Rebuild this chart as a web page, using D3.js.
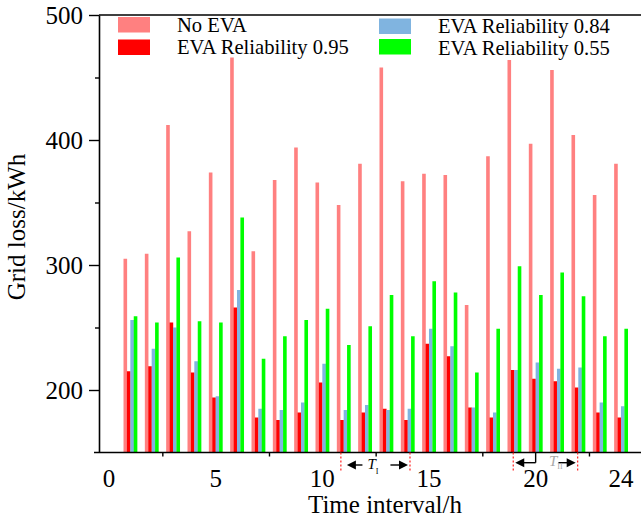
<!DOCTYPE html>
<html>
<head>
<meta charset="utf-8">
<script src="https://cdn.jsdelivr.net/npm/d3@7"></script>
<style>
  html, body { margin: 0; padding: 0; background: #fff; }
  svg { display: block; font-family: "Liberation Serif", "Times New Roman", serif; }
</style>
</head>
<body>
<svg id="chart" width="641" height="522"></svg>
<script>
// Hourly grid loss (kWh) for each scenario
const hours   = [1, 2, 3, 4, 5, 6, 7, 8, 9, 10, 11, 12, 13, 14, 15, 16, 17, 18, 19, 20, 21, 22, 23, 24];
const noEva   = [305, 309, 412, 327, 374, 466, 311, 368, 394, 366, 348, 381, 458, 367, 373, 372, 268, 387, 464, 397, 456, 404, 356, 381];
const rel095  = [215, 219, 254, 214, 194, 266, 178, 176, 182, 206, 176, 182, 185, 176, 237, 227, 186, 178, 216, 209, 207, 202, 182, 178];
const rel084  = [256, 233, 250, 223, 195, 280, 185, 184, 190, 221, 184, 188, 184, 185, 249, 235, 186, 182, 216, 222, 217, 218, 190, 187];
const rel055  = [259, 254, 306, 255, 254, 338, 225, 243, 256, 265, 236, 251, 276, 243, 287, 278, 214, 249, 299, 276, 294, 275, 243, 249];

const seriesNames  = ["No EVA", "EVA Reliability 0.95", "EVA Reliability 0.84", "EVA Reliability 0.55"];
const seriesColors = ["#ff8080", "#ff0000", "#80b4e0", "#00ff00"];
const seriesValues = [noEva, rel095, rel084, rel055];

const yMajor  = [200, 300, 400, 500];
const yMinor  = [250, 350, 450];
const xMajor  = [0, 5, 10, 15, 20];
const xMinor  = [2.5, 7.5, 12.5, 17.5, 22.5];
const xLabels = [0, 5, 10, 15, 20, 24];

// Peak-period spans marked under the axis
const periods = [
  { name: "T", sub: "I",  start: 10.87, end: 14.11, color: "#000" },
  { name: "T", sub: "II", start: 18.95, end: 21.97, color: "#a8a8a8" }
];

const svg = d3.select("#chart");
const x = d3.scaleLinear().domain([0, 25]).range([109, 642.3]);
const y = d3.scaleLinear().domain([150, 500]).range([452.5, 15]);

const barUnits = 0.16;                 // width of one bar in hours
const barPx = x(barUnits) - x(0);

// Bars
const bars = svg.append("g");
seriesValues.forEach((vals, k) => {
  bars.append("g")
    .attr("fill", seriesColors[k])
    .selectAll("rect")
    .data(hours.map((h, i) => ({ h, v: vals[i] })))
    .join("rect")
    .attr("x", d => x(d.h + (k - 2) * barUnits))
    .attr("width", barPx + 0.2)
    .attr("y", d => y(d.v))
    .attr("height", d => y(150) - y(d.v));
});

// Y axis
const yAxisG = svg.append("g").attr("transform", "translate(99,0)");
yAxisG.call(d3.axisLeft(y).tickValues(yMajor).tickSize(10).tickSizeOuter(0).tickPadding(6))
  .call(g => g.select(".domain").attr("stroke-width", 1.6))
  .call(g => g.selectAll(".tick line").attr("stroke-width", 1.4))
  .call(g => g.selectAll(".tick text")
    .attr("font-size", 25).attr("font-family", "Liberation Serif")
    .attr("fill", "#000").attr("dy", "0.34em"));
svg.append("g").attr("transform", "translate(99,0)")
  .call(d3.axisLeft(y).tickValues(yMinor).tickSize(4).tickSizeOuter(0).tickFormat(""))
  .call(g => g.select(".domain").remove())
  .call(g => g.selectAll(".tick line").attr("stroke-width", 1.4));

// Top frame line
svg.append("line")
  .attr("x1", 99).attr("x2", 641).attr("y1", y(500)).attr("y2", y(500))
  .attr("stroke", "#000").attr("stroke-width", 1.6);

// X axis
const xAxisG = svg.append("g").attr("transform", `translate(0,${y(150)})`);
xAxisG.call(d3.axisBottom(x).tickValues(xMajor).tickSize(8).tickSizeOuter(0).tickFormat(""))
  .call(g => g.select(".domain").remove())
  .call(g => g.selectAll(".tick line").attr("stroke-width", 1.4));
xAxisG.call(d3.axisBottom(x).tickValues(xMinor).tickSize(4).tickSizeOuter(0).tickFormat(""))
  .call(g => g.select(".domain").remove())
  .call(g => g.selectAll(".tick line").attr("stroke-width", 1.4));
svg.append("line")
  .attr("x1", 94).attr("x2", 641).attr("y1", y(150)).attr("y2", y(150))
  .attr("stroke", "#000").attr("stroke-width", 1.6);

svg.append("g").selectAll("text")
  .data(xLabels)
  .join("text")
  .attr("x", d => x(d))
  .attr("y", 486.7)
  .attr("text-anchor", "middle")
  .attr("font-size", 25)
  .text(d => d);

// Axis titles
svg.append("text")
  .attr("x", 385).attr("y", 513)
  .attr("text-anchor", "middle")
  .attr("font-size", 25)
  .text("Time interval/h");

svg.append("text")
  .attr("transform", "translate(25,227) rotate(-90)")
  .attr("text-anchor", "middle")
  .attr("font-size", 25)
  .text("Grid loss/kWh");

// Period annotations
const ann = svg.append("g");
function arrowHead(tipX, yy, dir) {
  const L = 9, H = 4.5;
  return `M${tipX},${yy} L${tipX - dir * L},${yy - H} L${tipX - dir * L},${yy + H} Z`;
}
periods.forEach((p, i) => {
  const x0 = x(p.start), x1 = x(p.end);
  const ay = i === 0 ? 465 : 462.7;
  [x0, x1].forEach(xx => {
    ann.append("line")
      .attr("x1", xx).attr("x2", xx).attr("y1", y(150)).attr("y2", 471)
      .attr("stroke", "#ff2020").attr("stroke-width", 1.2)
      .attr("stroke-dasharray", "2,2");
  });
  const mid = (x0 + x1) / 2;
  const lTip = x0 + (i === 0 ? 6 : 2);
  const rTip = x1 - 2;
  // left arrow
  ann.append("line").attr("x1", lTip + 4).attr("x2", i === 0 ? mid - 13 : x(20))
    .attr("y1", ay).attr("y2", ay).attr("stroke", "#000").attr("stroke-width", 1.4);
  ann.append("path").attr("d", arrowHead(lTip, ay, -1)).attr("fill", "#000");
  // right arrow
  ann.append("line").attr("x1", i === 0 ? mid + 15 : mid + 13).attr("x2", rTip - 4)
    .attr("y1", ay).attr("y2", ay).attr("stroke", "#000").attr("stroke-width", 1.4);
  ann.append("path").attr("d", arrowHead(rTip, ay, 1)).attr("fill", "#000");
  if (i === 1) {
    ann.append("line").attr("x1", x(20)).attr("x2", x(20))
      .attr("y1", y(150)).attr("y2", ay).attr("stroke", "#000").attr("stroke-width", 1.4);
  }
  const t = ann.append("text")
    .attr("x", i === 0 ? mid - 8 : 549)
    .attr("y", i === 0 ? 469 : 466)
    .attr("text-anchor", "start")
    .attr("font-size", 15)
    .attr("font-style", "italic")
    .attr("fill", p.color)
    .text(p.name);
  t.append("tspan")
    .attr("font-size", 8).attr("font-style", "normal")
    .attr("dy", i === 0 ? 5 : 3).text(p.sub);
});

// Legend
const legendPos = [
  { x: 118, y: 17, tx: 177, ty: 32 },
  { x: 118, y: 39.5, tx: 177, ty: 54 },
  { x: 379, y: 18.5, tx: 438, ty: 33 },
  { x: 379, y: 39, tx: 438, ty: 54.5 }
];
const legend = svg.append("g");
seriesNames.forEach((name, k) => {
  const p = legendPos[k];
  legend.append("rect")
    .attr("x", p.x).attr("y", p.y).attr("width", 32).attr("height", 15.5)
    .attr("fill", seriesColors[k]);
  legend.append("text")
    .attr("x", p.tx).attr("y", p.ty)
    .attr("font-size", 20.6)
    .text(name);
});
</script>
</body>
</html>
